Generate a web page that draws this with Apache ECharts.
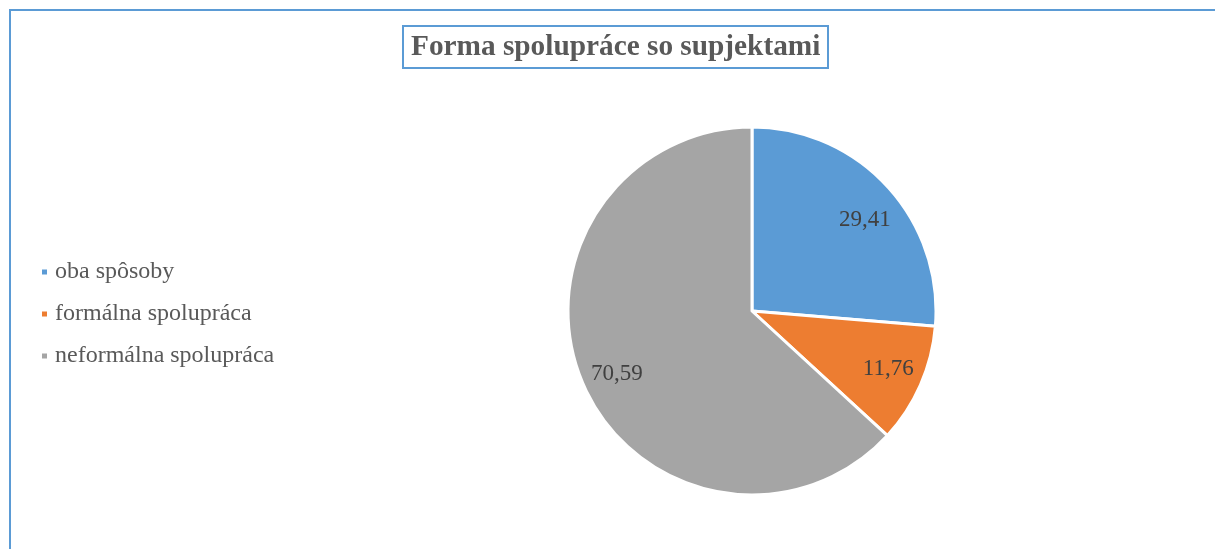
<!DOCTYPE html>
<html>
<head>
<meta charset="utf-8">
<script src="https://cdn.jsdelivr.net/npm/echarts@6/dist/echarts.min.js"></script>
<style>
html,body{margin:0;padding:0;background:#fff;}
#chart{width:1215px;height:549px;}
</style>
</head>
<body>
<div id="chart"></div>
<script>
const titleText = 'Forma spolupráce so supjektami';
const categories = ['oba spôsoby', 'formálna spolupráca', 'neformálna spolupráca'];
const values = [29.41, 11.76, 70.59];
const colors = ['#5B9BD5', '#ED7D31', '#A5A5A5'];
// small per-label placement tweaks (style only)
const labelNudge = [[1, 12], [-3, -3], [4, 2]];

const chart = echarts.init(document.getElementById('chart'));
const font = '"Liberation Serif", "Times New Roman", serif';
const data = categories.map((c, i) => ({ name: c, value: values[i], itemStyle: { color: colors[i] } }));

chart.setOption({
  animation: false,
  backgroundColor: '#fff',
  title: {
    text: titleText,
    left: 403,
    top: 26,
    padding: [6, 8, 5, 8],
    borderColor: '#5B9BD5',
    borderWidth: 2,
    textStyle: { fontFamily: font, fontSize: 29.3, fontWeight: 'bold', color: '#595959', lineHeight: 31 }
  },
  graphic: [{
    type: 'rect',
    shape: { x: 10, y: 10, width: 1230, height: 570 },
    style: { fill: 'none', stroke: '#5B9BD5', lineWidth: 2 },
    silent: true
  }],
  legend: {
    orient: 'vertical',
    left: 40,
    top: 260,
    padding: 0,
    icon: 'rect',
    itemWidth: 7,
    itemHeight: 7,
    itemGap: 18,
    textStyle: { fontFamily: font, fontSize: 24, color: '#595959', lineHeight: 24, padding: [0, 0, 0, 2] },
    data: categories
  },
  series: [{
    type: 'pie',
    center: [752, 311],
    radius: [0, 184],
    startAngle: 90,
    clockwise: true,
    silent: true,
    itemStyle: { borderColor: '#fff', borderWidth: 3 },
    label: { show: false },
    labelLine: { show: false },
    data: data
  }, {
    type: 'pie',
    center: [752, 311],
    radius: [114, 184],
    startAngle: 90,
    clockwise: true,
    silent: true,
    legendHoverLink: false,
    itemStyle: { color: 'rgba(0,0,0,0)', borderWidth: 0 },
    label: {
      show: true,
      position: 'inside',
      fontFamily: font,
      fontSize: 23,
      color: '#404040',
      formatter: p => p.value.toFixed(2).replace('.', ',')
    },
    labelLine: { show: false },
    data: categories.map((c, i) => ({ name: c + ' ', value: values[i], label: { offset: labelNudge[i] } }))
  }]
});
</script>
</body>
</html>
